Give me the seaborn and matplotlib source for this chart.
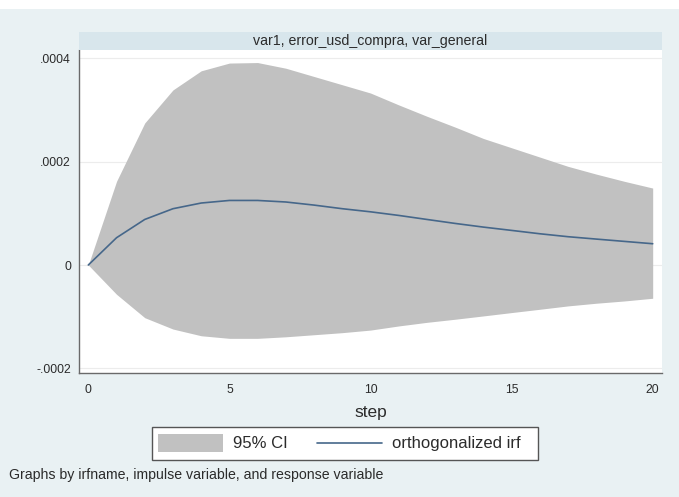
import matplotlib
matplotlib.use("Agg")
import matplotlib.pyplot as plt
from matplotlib.patches import Rectangle
from matplotlib.lines import Line2D
import pandas as pd
import seaborn as sns

# Orthogonalized impulse response and its 95% confidence band
steps = list(range(21))
irf = [0.0, 0.0000528, 0.0000882, 0.000109, 0.000120, 0.000125, 0.000125,
       0.000122, 0.000116, 0.000109, 0.000103, 0.0000960, 0.0000882,
       0.0000805, 0.0000734, 0.0000670, 0.0000605, 0.0000548, 0.0000502,
       0.0000457, 0.0000412]
ci_upper = [0.0, 0.000162, 0.000275, 0.000339, 0.000376, 0.000391, 0.000392,
            0.000381, 0.000365, 0.000349, 0.000333, 0.000310, 0.000288,
            0.000267, 0.000245, 0.000227, 0.000209, 0.000191, 0.000176,
            0.000162, 0.000149]
ci_lower = [0.0, -0.0000567, -0.000102, -0.000124, -0.000137, -0.000142,
            -0.000142, -0.000139, -0.000135, -0.000131, -0.000126, -0.000118,
            -0.000111, -0.000105, -0.0000986, -0.0000921, -0.0000857,
            -0.0000792, -0.0000740, -0.0000696, -0.0000644]

y_ticks = [-0.0002, 0.0, 0.0002, 0.0004]
y_tick_labels = ["-.0002", "0", ".0002", ".0004"]
x_ticks = [0, 5, 10, 15, 20]

panel_title = "var1, error_usd_compra, var_general"
x_label = "step"
legend_labels = ["95% CI", "orthogonalized irf"]
note = "Graphs by irfname, impulse variable, and response variable"

df = pd.DataFrame({"step": steps, "irf": irf,
                   "lower": ci_lower, "upper": ci_upper})

sns.set_theme(style="white")
plt.rcParams["font.family"] = ["Liberation Sans", "DejaVu Sans"]

BG = "#E9F1F3"
STRIP = "#D8E6EC"
BAND = "#C1C1C1"
LINE = "#46678A"
AXIS = "#6A6A6A"
TEXT = "#2B2B2B"

W, H = 679, 497
fig = plt.figure(figsize=(W / 100, H / 100), dpi=100, facecolor=BG)


def fx(px):
    return px / W


def fy(py):
    return 1 - py / H


# white margin along the top edge
fig.add_artist(Rectangle((0, fy(9)), 1, 9 / H, transform=fig.transFigure,
                         facecolor="white", edgecolor="none", zorder=0))

left, right, top, bottom = 79, 662, 50, 373
ax = fig.add_axes([fx(left), fy(bottom), (right - left) / W, (bottom - top) / H])
ax.set_facecolor("white")

# panel title strip
fig.add_artist(Rectangle((fx(left), fy(top)), (right - left) / W, (top - 31.5) / H,
                         transform=fig.transFigure, facecolor=STRIP,
                         edgecolor="none", zorder=1))
fig.text(fx((left + right) / 2), fy(40.8), panel_title, ha="center", va="center",
         fontsize=10.2, color=TEXT)

for v in y_ticks:
    ax.axhline(v, color="#ECECEC", lw=0.8, zorder=0)

ax.fill_between(df["step"], df["lower"], df["upper"], color=BAND, lw=0, zorder=1)
sns.lineplot(data=df, x="step", y="irf", ax=ax, color=LINE, lw=1.2, zorder=2)

ax.set_xlim(-0.33, 20.33)
ax.set_ylim(-0.0002091, 0.0004163)
ax.set_xticks(x_ticks)
ax.set_xticklabels([str(t) for t in x_ticks])
ax.set_yticks(y_ticks)
ax.set_yticklabels(y_tick_labels)
ax.tick_params(axis="both", which="major", direction="out", length=4.2,
               width=0.8, color=AXIS, labelsize=8.8, labelcolor=TEXT)
ax.tick_params(axis="y", pad=1.5)
ax.tick_params(axis="x", pad=3.5)
ax.grid(False)

for side in ["top", "right"]:
    ax.spines[side].set_visible(False)
for side in ["left", "bottom"]:
    ax.spines[side].set_color(AXIS)
    ax.spines[side].set_linewidth(1.0)

ax.set_xlabel(x_label, fontsize=12.5, color=TEXT, labelpad=7)
ax.set_ylabel("")

# legend box below the axis title
fig.add_artist(Rectangle((fx(151.7), fy(460)), (538.3 - 151.7) / W, (460 - 426.7) / H,
                         transform=fig.transFigure, facecolor="white",
                         edgecolor="#555555", lw=1.0, zorder=2))
fig.add_artist(Rectangle((fx(158), fy(452)), (223 - 158) / W, (452 - 434) / H,
                         transform=fig.transFigure, facecolor=BAND,
                         edgecolor="none", zorder=3))
fig.add_artist(Line2D([fx(316.7), fx(381.7)], [fy(442.7), fy(442.7)],
                      transform=fig.transFigure, color=LINE, lw=1.2, zorder=3))
fig.text(fx(232.7), fy(443.5), legend_labels[0], ha="left", va="center",
         fontsize=12, color=TEXT, zorder=4)
fig.text(fx(391.7), fy(443.5), legend_labels[1], ha="left", va="center",
         fontsize=12, color=TEXT, zorder=4)

fig.text(fx(9), fy(475), note, ha="left", va="center", fontsize=10.2, color=TEXT)

fig.savefig("out.png", dpi=100, facecolor=BG)
